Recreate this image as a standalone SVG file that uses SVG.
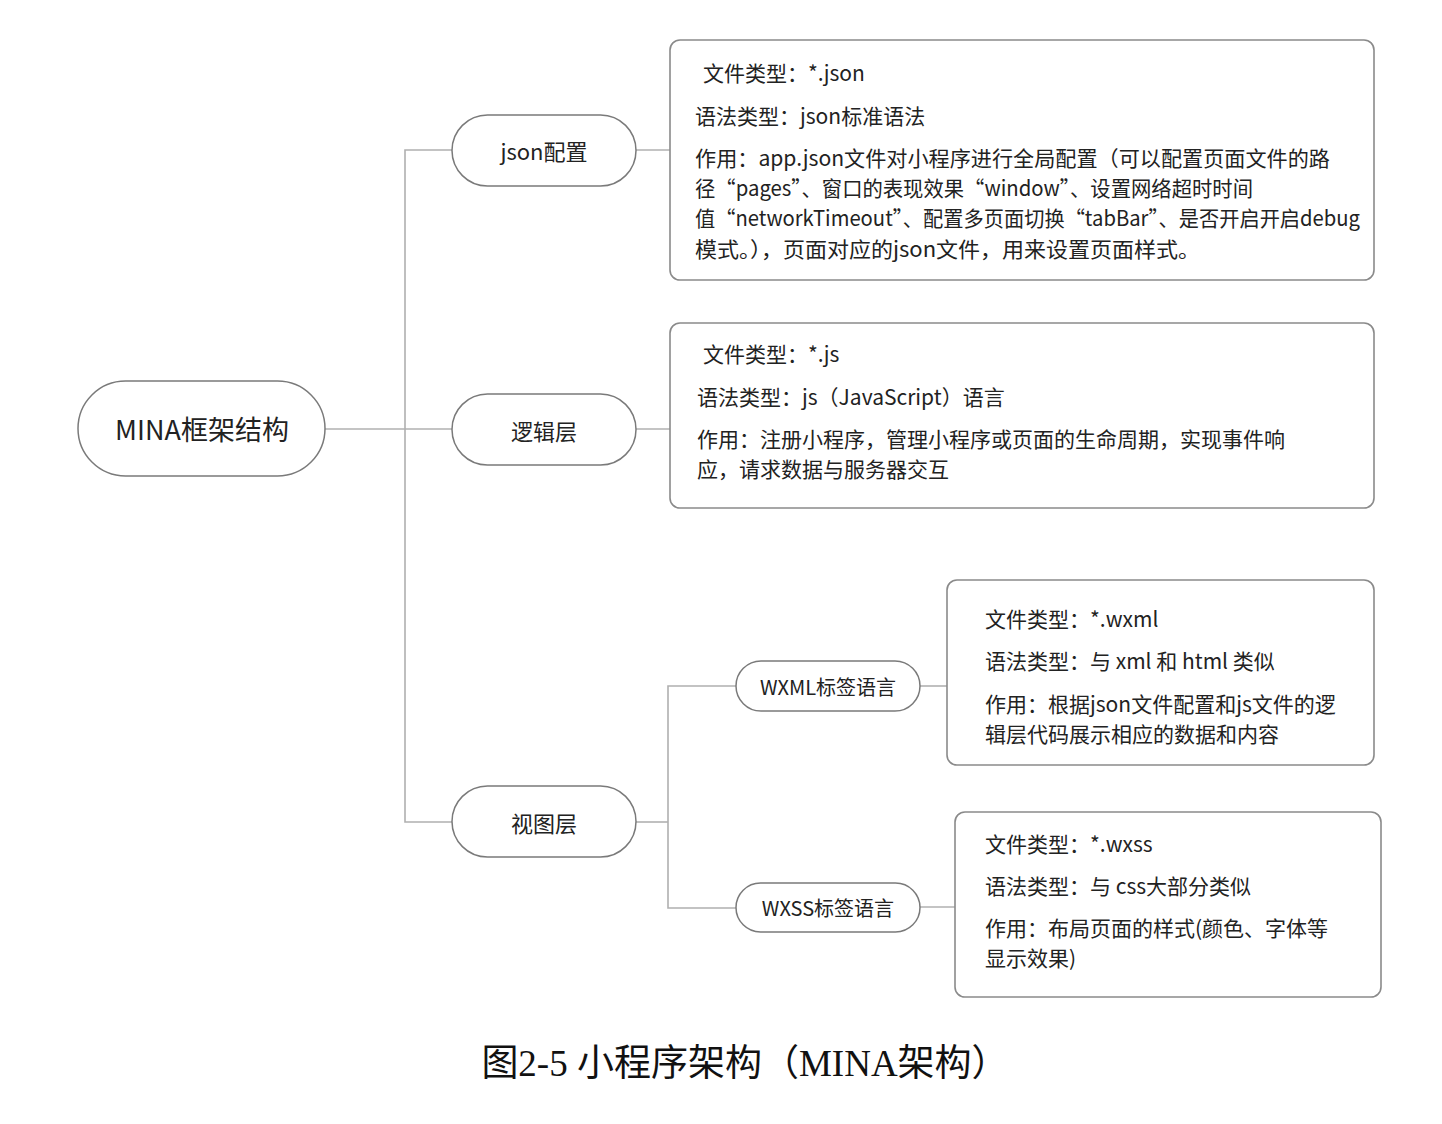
<svg xmlns="http://www.w3.org/2000/svg" width="1442" height="1124" viewBox="0 0 1442 1124">
<style>
.pill{fill:#fff;stroke:#7a7a7a;stroke-width:1.5}
.box{fill:#fff;stroke:#8a8a8a;stroke-width:1.6}
.conn{fill:none;stroke:#b0b0b0;stroke-width:1.6}
text{font-family:"Noto Sans CJK SC","Noto Sans",sans-serif;fill:#222;dominant-baseline:central}
.lbl{text-anchor:middle;font-size:22px}
.t{font-size:21px}
.cap{font-family:"Liberation Serif","Noto Sans CJK SC",serif;font-size:37px;text-anchor:middle;fill:#111}
</style>
<rect width="1442" height="1124" fill="#fff"/>
<g id="connectors">
<path class="conn" d="M325 429 H452"/>
<path class="conn" d="M452 150 H405 V822 H452"/>
<path class="conn" d="M636 150 H670"/>
<path class="conn" d="M636 429 H670"/>
<path class="conn" d="M636 822 H668"/>
<path class="conn" d="M736 686 H668 V908 H736"/>
<path class="conn" d="M920 686 H947"/>
<path class="conn" d="M920 907 H955"/>
</g>
<g id="root">
<rect class="pill" x="78" y="381" width="247" height="95" rx="47.5"/>
<text class="lbl" x="202" y="428" style="font-size:27px">MINA框架结构</text>
</g>
<g id="json">
<rect class="pill" x="452" y="115" width="184" height="71" rx="35.5"/>
<text class="lbl" x="544" y="150">json配置</text>
</g>
<g id="logic">
<rect class="pill" x="452" y="394" width="184" height="71" rx="35.5"/>
<text class="lbl" x="544" y="430">逻辑层</text>
</g>
<g id="view">
<rect class="pill" x="452" y="786" width="184" height="71" rx="35.5"/>
<text class="lbl" x="544" y="822">视图层</text>
</g>
<g id="wxml">
<rect class="pill" x="736" y="661" width="184" height="50" rx="25"/>
<text class="lbl" x="828" y="686" style="font-size:20px">WXML标签语言</text>
</g>
<g id="wxss">
<rect class="pill" x="736" y="883" width="184" height="49" rx="24.5"/>
<text class="lbl" x="828" y="907" style="font-size:20px">WXSS标签语言</text>
</g>
<g id="box-json">
<rect class="box" x="670" y="40" width="704" height="240" rx="10"/>
<text class="t" x="703" y="72">文件类型：*.json</text>
<text class="t" x="695" y="115">语法类型：json标准语法</text>
<text class="t" x="695" y="157" textLength="635" lengthAdjust="spacingAndGlyphs">作用：app.json文件对小程序进行全局配置（可以配置页面文件的路</text>
<text class="t" x="695" y="187" textLength="558" lengthAdjust="spacingAndGlyphs">径“pages”、窗口的表现效果“window”、设置网络超时时间</text>
<text class="t" x="695" y="217" textLength="665" lengthAdjust="spacingAndGlyphs">值“networkTimeout”、配置多页面切换“tabBar”、是否开启开启debug</text>
<text class="t" x="695" y="248" textLength="505" lengthAdjust="spacingAndGlyphs">模式。），页面对应的json文件，用来设置页面样式。</text>
</g>
<g id="box-logic">
<rect class="box" x="670" y="323" width="704" height="185" rx="10"/>
<text class="t" x="703" y="353">文件类型：*.js</text>
<text class="t" x="697" y="396">语法类型：js（JavaScript）语言</text>
<text class="t" x="697" y="438">作用：注册小程序，管理小程序或页面的生命周期，实现事件响</text>
<text class="t" x="697" y="468">应，请求数据与服务器交互</text>
</g>
<g id="box-wxml">
<rect class="box" x="947" y="580" width="427" height="185" rx="10"/>
<text class="t" x="985" y="618">文件类型：*.wxml</text>
<text class="t" x="985" y="660">语法类型：与 xml 和 html 类似</text>
<text class="t" x="985" y="703">作用：根据json文件配置和js文件的逻</text>
<text class="t" x="985" y="733">辑层代码展示相应的数据和内容</text>
</g>
<g id="box-wxss">
<rect class="box" x="955" y="812" width="426" height="185" rx="10"/>
<text class="t" x="985" y="843">文件类型：*.wxss</text>
<text class="t" x="985" y="885">语法类型：与 css大部分类似</text>
<text class="t" x="985" y="927">作用：布局页面的样式(颜色、字体等</text>
<text class="t" x="985" y="957">显示效果)</text>
</g>
<text class="cap" x="745" y="1063">图2-5 小程序架构（MINA架构）</text>
</svg>
